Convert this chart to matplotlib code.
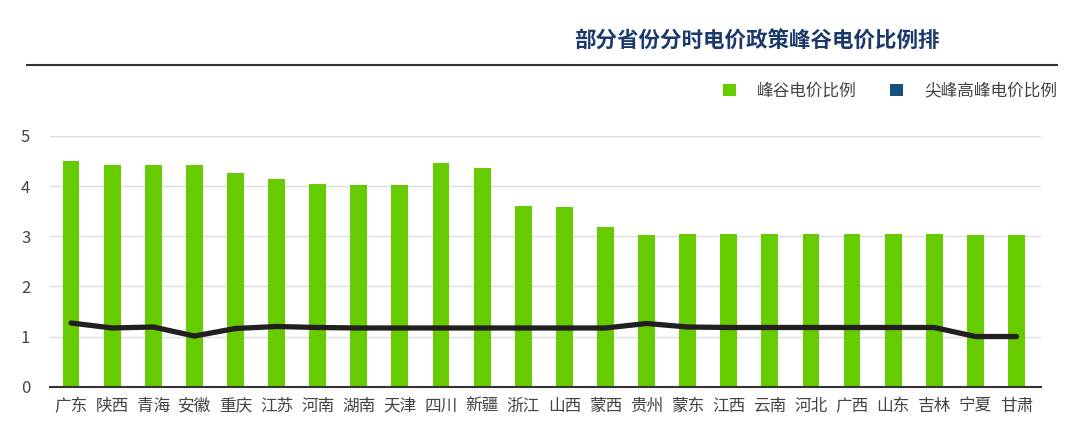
import matplotlib
matplotlib.use("Agg")
import matplotlib.pyplot as plt
from matplotlib.patches import Patch
from matplotlib.lines import Line2D

plt.rcParams['font.family'] = ['Noto Sans CJK SC', 'DejaVu Sans']

provinces = ['广东', '陕西', '青海', '安徽', '重庆', '江苏', '河南', '湖南', '天津', '四川', '新疆', '浙江',
             '山西', '蒙西', '贵州', '蒙东', '江西', '云南', '河北', '广西', '山东', '吉林', '宁夏', '甘肃']
peak_valley = [4.49, 4.42, 4.42, 4.41, 4.25, 4.13, 4.05, 4.03, 4.03, 4.46, 4.35, 3.60,
               3.58, 3.19, 3.03, 3.04, 3.04, 3.04, 3.04, 3.04, 3.04, 3.04, 3.03, 3.03]
sharp_peak = [1.27, 1.17, 1.19, 1.01, 1.16, 1.20, 1.18, 1.17, 1.17, 1.17, 1.17, 1.17,
              1.17, 1.17, 1.26, 1.19, 1.18, 1.18, 1.18, 1.18, 1.18, 1.18, 1.00, 1.00]

green = '#66cc00'
navy = '#164f7c'

fig = plt.figure(figsize=(10.8, 4.34), dpi=100)
ax = fig.add_axes([0.046, 0.109, 0.918, 0.578])

x = list(range(len(provinces)))
ax.bar(x, peak_valley, width=0.41, color=green, zorder=2)
ax.plot(x, sharp_peak, color='#231f20', linewidth=3.8, solid_capstyle='round', zorder=3)

ax.set_ylim(0, 5)
ax.set_xlim(-0.52, 23.6)
ax.set_yticks([0, 1, 2, 3, 4, 5])
ax.set_xticks(x)
ax.set_xticklabels(provinces)
ax.tick_params(axis='both', length=0, labelsize=12, labelcolor='#444444')
ax.tick_params(axis='x', pad=8)
ax.tick_params(axis='y', pad=14)
ax.grid(axis='y', color='#dddddd', linewidth=1, zorder=0)
for s in ['top', 'right', 'left']:
    ax.spines[s].set_visible(False)
ax.spines['bottom'].set_color('#333333')
ax.spines['bottom'].set_linewidth(1.5)
ax.spines['bottom'].set_zorder(4)

fig.text(0.701, 0.905, '部分省份分时电价政策峰谷电价比例排', ha='center', va='center',
         fontsize=15.5, fontweight='bold', color='#1b3a6b')
fig.add_artist(Line2D([0.025, 0.979], [0.85, 0.85], color='#333333', linewidth=1.5))

handles = [Patch(facecolor=green, label='峰谷电价比例'),
           Patch(facecolor=navy, label='尖峰高峰电价比例')]
fig.legend(handles=handles, loc='center right', bbox_to_anchor=(0.993, 0.79), ncol=2,
           frameon=False, fontsize=12, handlelength=0.75, handleheight=0.75,
           handletextpad=1.3, columnspacing=2.0, labelcolor='#444444')

fig.savefig('out.png', dpi=100)
